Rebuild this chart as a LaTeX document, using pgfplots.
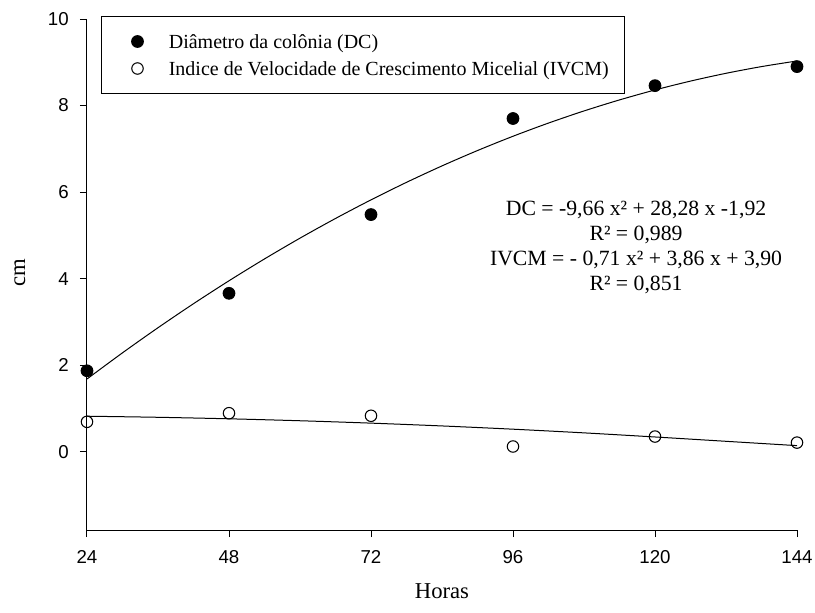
\documentclass[border=0pt]{standalone}
\usepackage{fontspec}
\setmainfont{Liberation Serif}
\newfontfamily\arialfont{Liberation Sans}
\usepackage{pgfplots}
\pgfplotsset{compat=1.18}
\begin{document}
\begin{tikzpicture}
\begin{axis}[
  scale only axis, width=532.5pt, height=383.25pt,
  at={(0pt,0pt)}, anchor=south west,
  xmin=24, xmax=144, ymin=-1.81, ymax=10,
  axis lines*=left,
  clip=false,
  xtick={24,48,72,96,120,144},
  ytick={0,2,4,6,8,10},
  tick align=outside, major tick length=5.25pt,
  tick style={line width=0.75pt, black},
  axis line style={line width=0.75pt, black},
  ticklabel style={font=\arialfont\fontsize{14}{16}\selectfont},
  xticklabel style={yshift=-6.75pt},
  yticklabel style={xshift=-4.9pt},
  /pgf/number format/assume math mode=true,
  every axis x label/.style={at={(axis description cs:0.5,0)}, anchor=base, yshift=-51pt, font=\fontsize{17}{20}\selectfont},
  every axis y label/.style={at={(axis description cs:0,0.503)}, xshift=-50.25pt, rotate=90, anchor=center, font=\fontsize{17}{20}\selectfont},
  xlabel={Horas}, ylabel={cm},
  legend style={at={(rel axis cs:0,1)}, anchor=north west, xshift=10.5pt, yshift=2.25pt,
    draw=black, line width=0.75pt, inner xsep=12pt, inner ysep=10.5pt,
    row sep=3.75pt, column sep=5.5pt,
    nodes={inner sep=0pt, text height=13.5pt, text depth=3pt, font=\fontsize{15}{18}\selectfont}},
  legend cell align=left,
  legend image code/.code={\path[draw=none] (0pt,-1pt) rectangle (33pt,1pt); \draw[#1] plot coordinates {(15pt,0pt)};},
]
\addplot[only marks, mark=*, mark size=4.4pt, black, line width=0.75pt] coordinates {
  (24,1.87) (48,3.66) (72,5.48) (96,7.70) (120,8.46) (144,8.90)};
\addlegendentry{Diâmetro da colônia (DC)}
\addplot[only marks, mark=o, mark size=4.3pt, black, line width=0.8pt, mark options={fill=white}] coordinates {
  (24,0.69) (48,0.89) (72,0.83) (96,0.12) (120,0.35) (144,0.21)};
\addlegendentry{Indice de Velocidade de Crescimento Micelial (IVCM)}
\addplot[forget plot, black, line width=0.75pt, smooth] coordinates {
  (24,1.68) (30,2.285) (36,2.865) (42,3.42) (48,3.95) (54,4.455) (60,4.935) (66,5.39)
  (72,5.82) (78,6.225) (84,6.605) (90,6.96) (96,7.29) (102,7.595) (108,7.875) (114,8.13)
  (120,8.36) (126,8.565) (132,8.745) (138,8.90) (144,9.03)};
\addplot[forget plot, black, line width=0.75pt, smooth] coordinates {
  (24,0.82) (36,0.795) (48,0.76) (60,0.715) (72,0.66) (84,0.595) (96,0.52)
  (108,0.435) (120,0.34) (132,0.24) (144,0.14)};
\node[anchor=north, inner sep=0pt, align=center, font=\fontsize{16.3}{18.75}\selectfont] at (axis cs:116.8,5.79)
  {DC = -9,66 x² + 28,28 x -1,92\\R² = 0,989\\IVCM = - 0,71 x² + 3,86 x + 3,90\\R² = 0,851};
\end{axis}
\pgfresetboundingbox
\useasboundingbox (-65.25pt,-61.5pt) rectangle (546pt,397.5pt);
\end{tikzpicture}
\end{document}
